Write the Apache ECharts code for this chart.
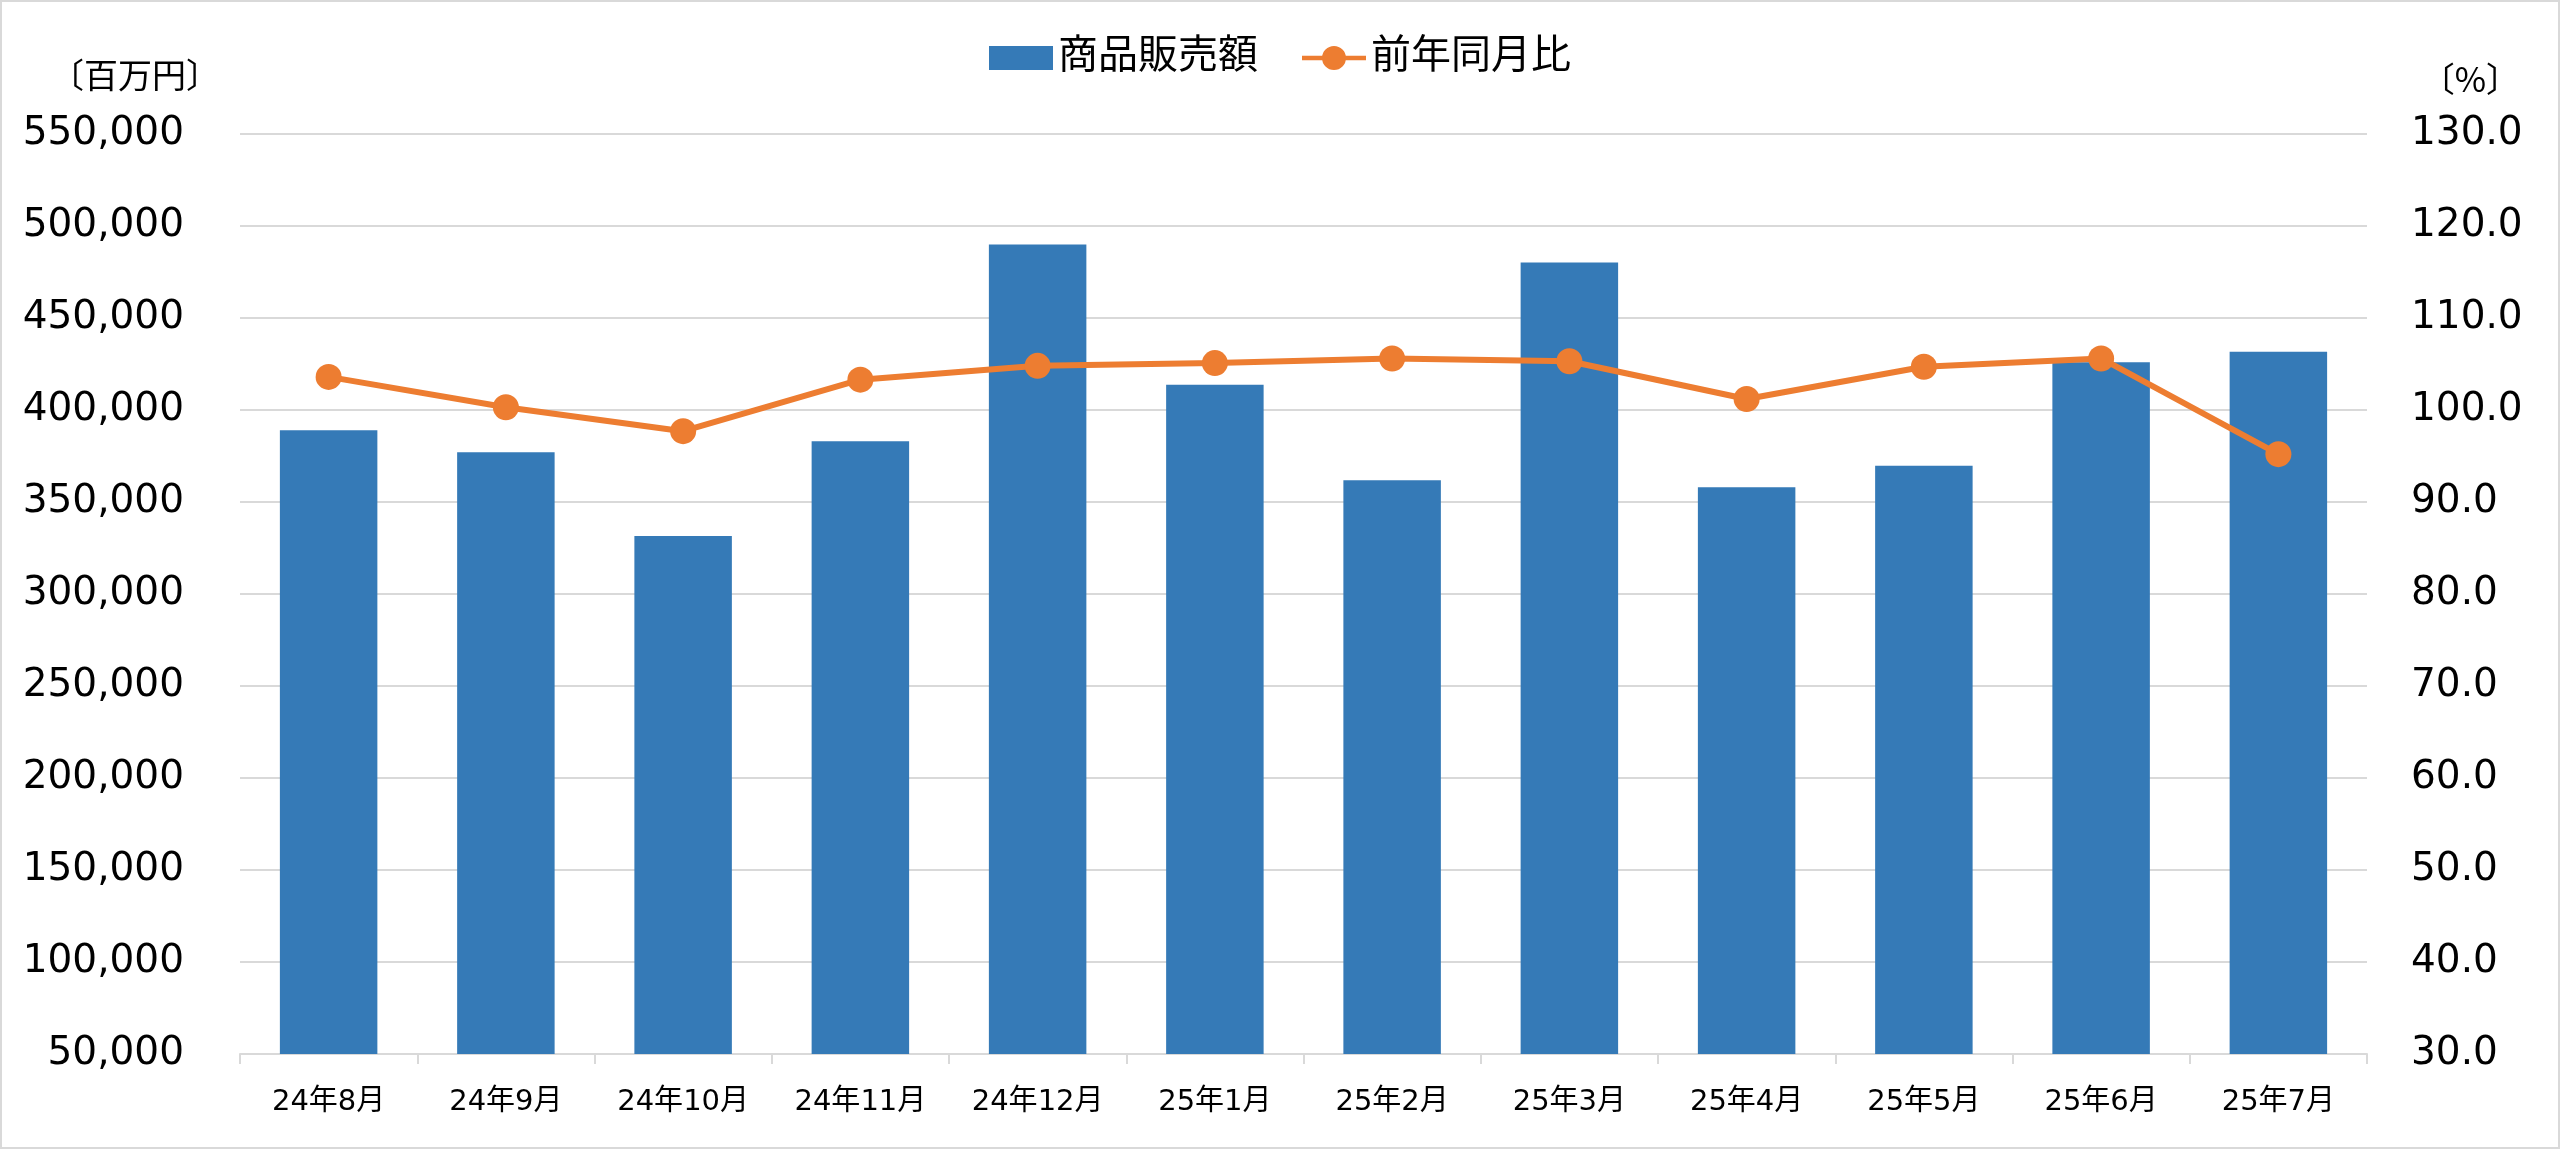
<!DOCTYPE html>
<html>
<head>
<meta charset="utf-8">
<script src="https://cdn.jsdelivr.net/npm/echarts@6/dist/echarts.min.js"></script>
<style>
  html, body { margin: 0; padding: 0; background: #fff; }
  #main { width: 2560px; height: 1149px; }
</style>
</head>
<body>
<div id="main"></div>
<script>
// 月別データ
const months = ['24年8月', '24年9月', '24年10月', '24年11月', '24年12月', '25年1月',
  '25年2月', '25年3月', '25年4月', '25年5月', '25年6月', '25年7月']
const sales = [389000, 377000, 331500, 383000, 490000, 413700,
  361800, 480100, 358000, 369700, 425900, 431700]
const yoy = [103.6, 100.3, 97.7, 103.3, 104.8, 105.1, 105.6, 105.3, 101.2, 104.7, 105.6, 95.2]

const font = "'DejaVu Sans', 'Noto Sans CJK JP', sans-serif"
const gridColor = '#d9d9d9'
// 凡例の線＋マーカー（太線と大きめの丸）
const lineIcon = 'path://M0,11L72,11L72,16L0,16Z M22.5,13.5A13.5,13.5 0 1,1 49.5,13.5A13.5,13.5 0 1,1 22.5,13.5Z'

var myChart = echarts.init(document.getElementById('main'))

myChart.setOption({
  animation: false,
  textStyle: { fontFamily: font, color: '#000' },
  graphic: [
    {
      type: 'rect',
      shape: { x: 1, y: 1, width: 2558, height: 1147 },
      style: { fill: 'none', stroke: gridColor, lineWidth: 2 },
      silent: true
    },
    {
      type: 'text', left: 50, top: 58,
      style: { text: '〔百万円〕', font: "34px 'Noto Sans CJK JP'", fill: '#000' }
    },
    {
      type: 'text', right: 40, top: 62,
      style: { text: '〔%〕', font: "34px 'Noto Sans CJK JP'", fill: '#000' }
    }
  ],
  legend: {
    top: 33,
    left: 'center',
    itemWidth: 64,
    itemHeight: 24,
    itemGap: 44,
    textStyle: { fontSize: 40, fontFamily: font, color: '#000' },
    data: [
      { name: '商品販売額', icon: 'rect' },
      { name: '前年同月比', icon: lineIcon }
    ]
  },
  grid: { left: 240, right: 193, top: 134, bottom: 95 },
  xAxis: {
    type: 'category',
    data: months,
    axisLine: { lineStyle: { color: gridColor, width: 2 } },
    axisTick: { show: true, length: 10, lineStyle: { color: gridColor, width: 2 } },
    axisLabel: { fontSize: 29, color: '#000', margin: 34, fontFamily: font }
  },
  yAxis: [
    {
      type: 'value',
      min: 50000,
      max: 550000,
      interval: 50000,
      axisLine: { show: false },
      axisTick: { show: false },
      splitLine: { lineStyle: { color: gridColor, width: 2 } },
      axisLabel: {
        fontSize: 39, color: '#000', margin: 56,
        formatter: v => v.toLocaleString('en-US')
      }
    },
    {
      type: 'value',
      min: 30,
      max: 130,
      interval: 10,
      axisLine: { show: false },
      axisTick: { show: false },
      splitLine: { show: false },
      axisLabel: {
        fontSize: 39, color: '#000', margin: 44,
        formatter: v => v.toFixed(1)
      }
    }
  ],
  series: [
    {
      name: '商品販売額',
      type: 'bar',
      barWidth: '55%',
      itemStyle: { color: '#357ab7' },
      data: sales
    },
    {
      name: '前年同月比',
      type: 'line',
      yAxisIndex: 1,
      symbol: 'circle',
      symbolSize: 26,
      lineStyle: { color: '#ed7d31', width: 6 },
      itemStyle: { color: '#ed7d31' },
      data: yoy
    }
  ]
})
</script>
</body>
</html>
